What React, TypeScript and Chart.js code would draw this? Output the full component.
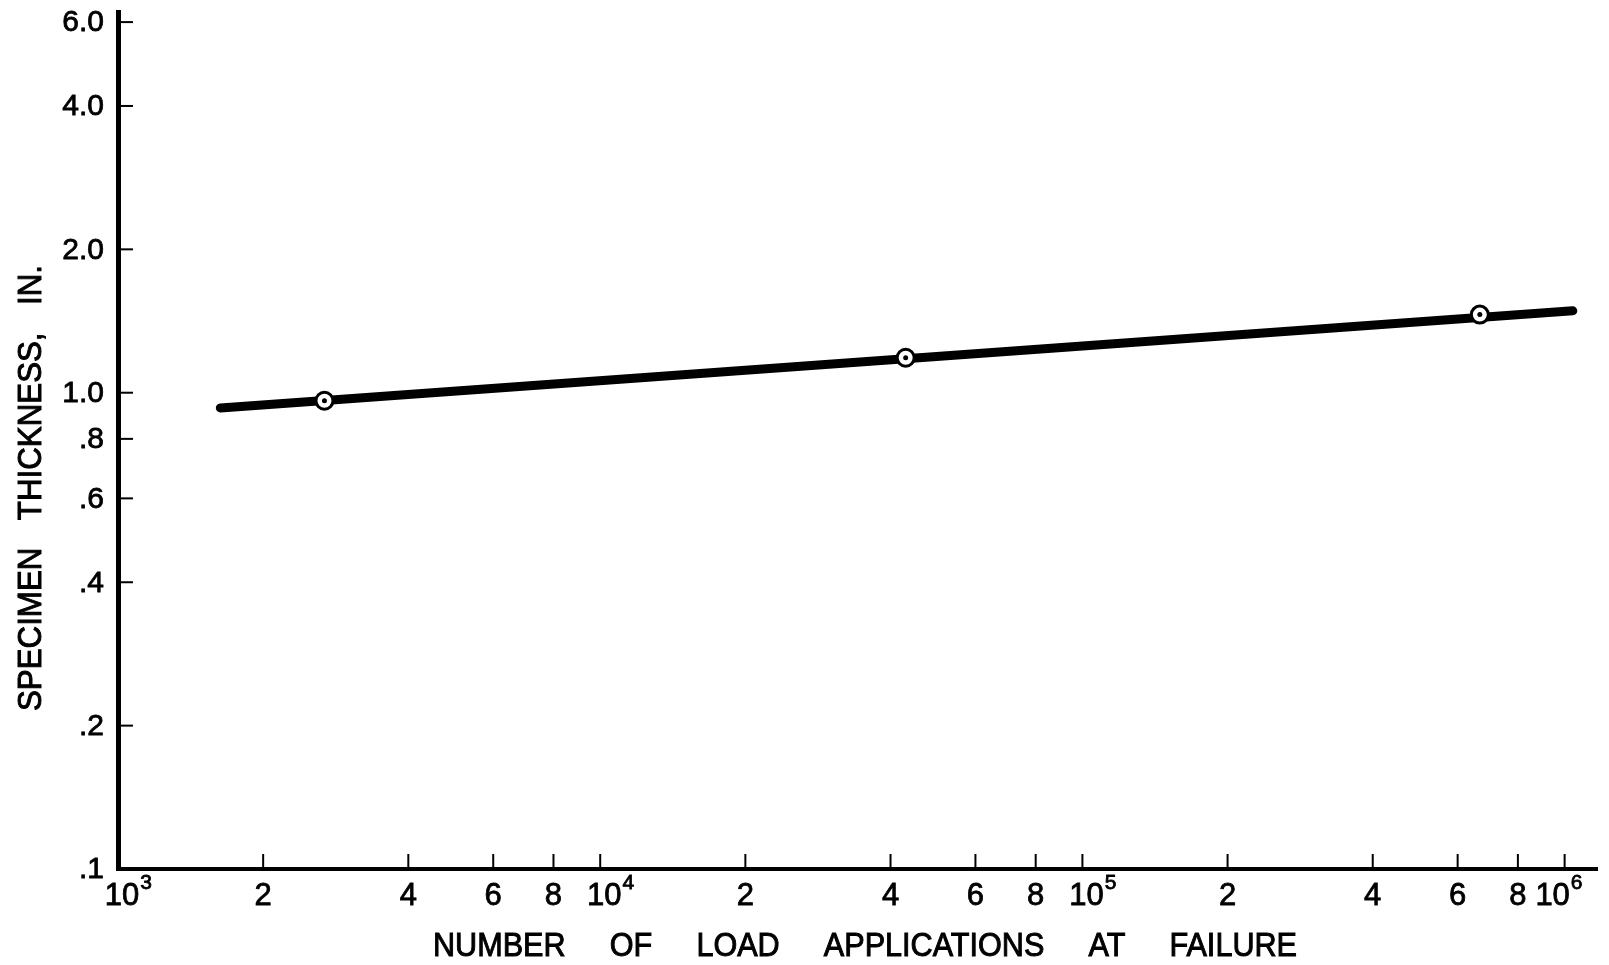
import React, { useEffect, useRef } from "react";
import { Chart, registerables } from "chart.js";

Chart.register(...registerables);

// Fitted line end points (number of load applications, thickness in.)
const lineX = [1630, 1040000];
const lineY = [0.929, 1.486];

// Observed points
const pointX = [2680, 43000, 667000];
const pointY = [0.962, 1.184, 1.459];

const xTickValues = [1e3, 2e3, 4e3, 6e3, 8e3, 1e4, 2e4, 4e4, 6e4, 8e4, 1e5, 2e5, 4e5, 6e5, 8e5, 1e6];
const xTickLabels = ["10³", "2", "4", "6", "8", "10⁴", "2", "4", "6", "8", "10⁵", "2", "4", "6", "8", "10⁶"];
const yTickValues = [0.1, 0.2, 0.4, 0.6, 0.8, 1, 2, 4, 6];
const yTickLabels = [".1", ".2", ".4", ".6", ".8", "1.0", "2.0", "4.0", "6.0"];

const xTitleWords = ["NUMBER", "OF", "LOAD", "APPLICATIONS", "AT", "FAILURE"];
const yTitleWords = ["SPECIMEN", "THICKNESS,", "IN."];

const FONT = '"Liberation Sans", Arial, sans-serif';
const SUP: Record<string, string> = { "³": "3", "⁴": "4", "⁵": "5", "⁶": "6" };

function drawSpaced(ctx: CanvasRenderingContext2D, words: string[], total: number, hScale: number) {
  const widths = words.map((w) => ctx.measureText(w).width * hScale);
  const sum = widths.reduce((a, b) => a + b, 0);
  const gap = (total - sum) / (words.length - 1);
  let x = -total / 2;
  words.forEach((w, i) => {
    ctx.save();
    ctx.translate(x, 0);
    ctx.scale(hScale, 1);
    ctx.strokeText(w, 0, 0);
    ctx.fillText(w, 0, 0);
    ctx.restore();
    x += widths[i] + gap;
  });
}

const decorPlugin = {
  id: "decor",
  afterDraw(chart: any) {
    const ctx: CanvasRenderingContext2D = chart.ctx;
    const xs = chart.scales.x;
    const ys = chart.scales.y;
    const area = chart.chartArea;
    ctx.save();
    ctx.strokeStyle = "#000";
    ctx.fillStyle = "#000";
    ctx.lineWidth = 2;
    // inside tick marks
    yTickValues.forEach((v, i) => {
      if (i === 0) return;
      const p = ys.getPixelForValue(v);
      ctx.beginPath();
      ctx.moveTo(area.left, p);
      ctx.lineTo(area.left + 15, p);
      ctx.stroke();
    });
    xTickValues.forEach((v, i) => {
      if (i === 0) return;
      const p = xs.getPixelForValue(v);
      ctx.beginPath();
      ctx.moveTo(p, area.bottom);
      ctx.lineTo(p, area.bottom - 15);
      ctx.stroke();
    });

    // tick labels
    ctx.lineWidth = 0.8;
    ctx.font = `30px ${FONT}`;
    ctx.textAlign = "right";
    ctx.textBaseline = "middle";
    yTickValues.forEach((v, i) => {
      const p = ys.getPixelForValue(v);
      ctx.strokeText(yTickLabels[i], area.left - 14, p + 1);
      ctx.fillText(yTickLabels[i], area.left - 14, p + 1);
    });
    ctx.textBaseline = "alphabetic";
    xTickValues.forEach((v, i) => {
      const p = xs.getPixelForValue(v);
      const lab = xTickLabels[i];
      const last = lab.charAt(lab.length - 1);
      ctx.font = `31px ${FONT}`;
      if (SUP[last]) {
        const base = lab.slice(0, -1);
        const w = ctx.measureText(base).width;
        let cx = p + 4;
        if (i === xTickValues.length - 1) cx = p - 12;
        ctx.textAlign = "center";
        ctx.strokeText(base, cx, area.bottom + 36);
        ctx.fillText(base, cx, area.bottom + 36);
        ctx.font = `21px ${FONT}`;
        ctx.textAlign = "left";
        ctx.strokeText(SUP[last], cx + w / 2 + 1, area.bottom + 20);
        ctx.fillText(SUP[last], cx + w / 2 + 1, area.bottom + 20);
      } else {
        ctx.textAlign = "center";
        ctx.strokeText(lab, p, area.bottom + 36);
        ctx.fillText(lab, p, area.bottom + 36);
      }
    });

    // titles
    ctx.font = `34px ${FONT}`;
    ctx.lineWidth = 1;
    ctx.textBaseline = "alphabetic";
    ctx.textAlign = "left";
    ctx.save();
    ctx.translate(865, 956);
    drawSpaced(ctx, xTitleWords, 864, 0.9);
    ctx.restore();
    ctx.save();
    ctx.translate(41, 488);
    ctx.rotate(-Math.PI / 2);
    drawSpaced(ctx, yTitleWords, 446, 0.92);
    ctx.restore();
    ctx.restore();
  },
};

export default function App() {
  const ref = useRef<HTMLCanvasElement | null>(null);

  useEffect(() => {
    if (!ref.current) return;
    const chart = new Chart(ref.current, {
      type: "scatter",
      data: {
        datasets: [
          {
            data: lineX.map((x, i) => ({ x, y: lineY[i] })),
            showLine: true,
            borderColor: "#000",
            borderWidth: 9,
            borderCapStyle: "round",
            pointRadius: 0,
            pointHoverRadius: 0,
            order: 3,
          },
          {
            data: pointX.map((x, i) => ({ x, y: pointY[i] })),
            showLine: false,
            pointRadius: 8.5,
            pointBackgroundColor: "#fff",
            pointBorderColor: "#000",
            pointBorderWidth: 3,
            order: 2,
          },
          {
            data: pointX.map((x, i) => ({ x, y: pointY[i] })),
            showLine: false,
            pointRadius: 2.5,
            pointBackgroundColor: "#000",
            pointBorderColor: "#000",
            pointBorderWidth: 0,
            order: 1,
          },
        ],
      } as any,
      options: {
        responsive: false,
        animation: false,
        layout: { padding: { top: 12, right: 9, left: 0, bottom: 0 } },
        plugins: { legend: { display: false }, tooltip: { enabled: false } },
        scales: {
          x: {
            type: "logarithmic",
            min: 1000,
            max: 1170000,
            afterBuildTicks: (s: any) => {
              s.ticks = xTickValues.map((v) => ({ value: v }));
            },
            afterFit: (s: any) => {
              s.height = 96;
            },
            grid: { display: false, drawTicks: false },
            border: { display: true, color: "#000", width: 4 },
            ticks: { display: false },
          },
          y: {
            type: "logarithmic",
            min: 0.1,
            max: 6.3,
            afterBuildTicks: (s: any) => {
              s.ticks = yTickValues.map((v) => ({ value: v }));
            },
            afterFit: (s: any) => {
              s.width = 118;
            },
            grid: { display: false, drawTicks: false },
            border: { display: true, color: "#000", width: 5 },
            ticks: { display: false },
          },
        },
      } as any,
      plugins: [decorPlugin],
    });
    return () => chart.destroy();
  }, []);

  return (
    <div style={{ position: "absolute", left: 0, top: 0, width: 1609, height: 965, background: "#fff" }}>
      <canvas ref={ref} width={1609} height={965} style={{ width: 1609, height: 965 }} />
    </div>
  );
}
